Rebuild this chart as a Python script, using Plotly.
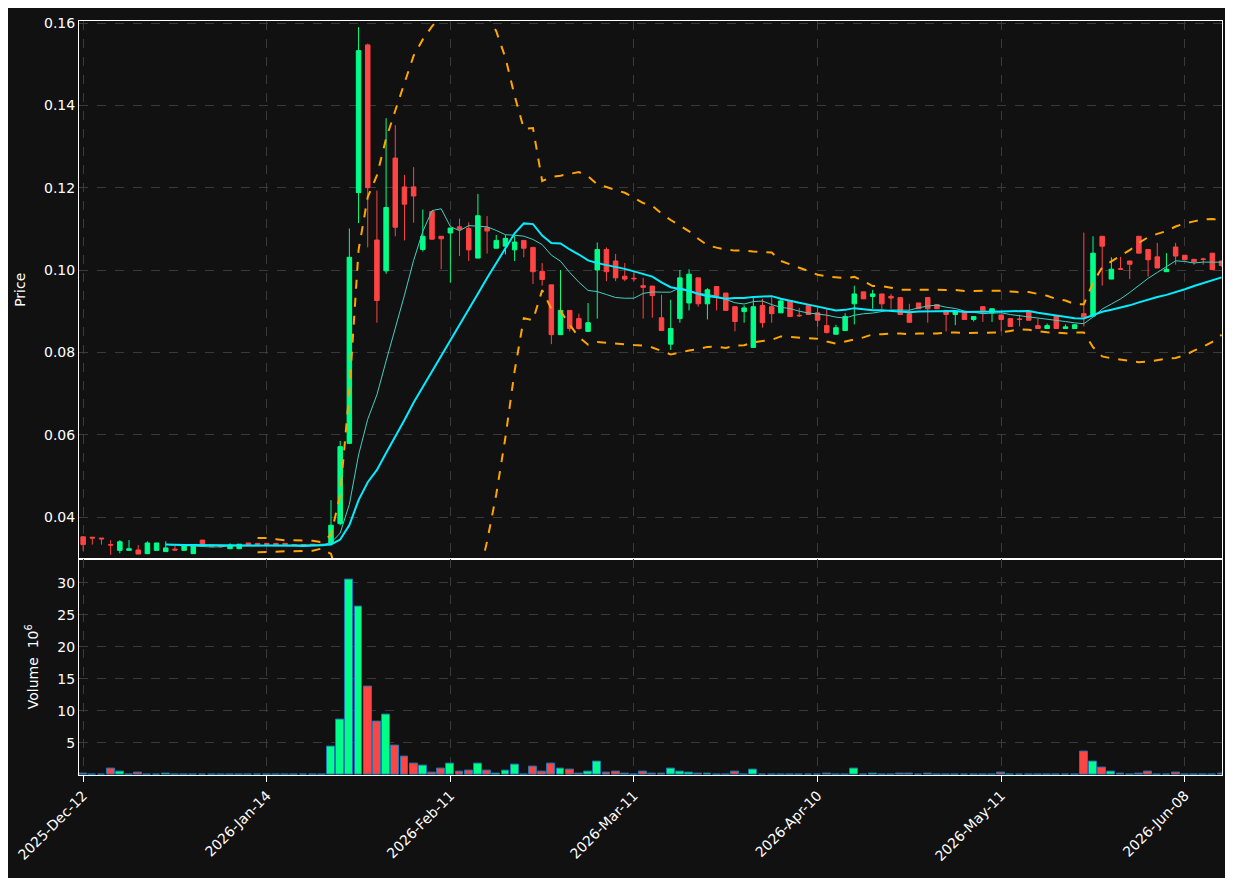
import pandas as pd
import plotly.graph_objects as go
from plotly.subplots import make_subplots

# OHLC per trading bar (index based x axis)
opens = [.0352,.0351,.0349,.0333,.0319,.0319,.0320,.0311,.0319,.0316,.0322,.0319,.0311,.0344,.0332,.0329,.0323,.0323,.0337,.0336,
         .0336,.0336,.0336,.0333,.0333,.0334,.0334,.0336,.0384,.0579,.1188,.1547,.1073,.0998,.1272,.1202,.1202,.1050,.1142,.1082,
         .1090,.1105,.1101,.1029,.1103,.1053,.1058,.1049,.1072,.1055,.0997,.0964,.0843,.0902,.0882,.0851,.1000,.1050,.1022,.0985,
         .0980,.0962,.0961,.0884,.0820,.0882,.0920,.0981,.0918,.0960,.0944,.0911,.0899,.0812,.0914,.0911,.0896,.0926,.0890,.0914,
         .0896,.0865,.0844,.0853,.0918,.0947,.0936,.0942,.0936,.0933,.0894,.0920,.0933,.0916,.0902,.0892,.0896,.0880,.0911,.0896,
         .0891,.0882,.0881,.0899,.0865,.0858,.0889,.0858,.0858,.0894,.0888,.1082,.0978,.1003,.1022,.1082,.1050,.1032,.0996,.1056,
         .1036,.1026,.1027,.1041,.1022]
highs = [.0353,.0351,.0349,.0344,.0344,.0344,.0332,.0341,.0337,.0341,.0330,.0330,.0332,.0344,.0332,.0333,.0336,.0334,.0337,.0336,
         .0336,.0336,.0336,.0333,.0334,.0334,.0334,.0441,.0585,.1101,.1590,.1550,.1193,.1369,.1352,.1231,.1250,.1147,.1143,.1082,
         .1102,.1125,.1116,.1185,.1131,.1085,.1085,.1083,.1072,.1055,.1017,.0964,.1000,.0902,.0894,.0920,.1067,.1055,.1039,.1017,
         .0995,.0981,.0961,.0940,.0928,.1000,.1002,.0981,.0956,.0960,.0944,.0911,.0914,.0932,.0930,.0938,.0930,.0926,.0908,.0914,
         .0914,.0906,.0867,.0895,.0962,.0947,.0952,.0942,.0942,.0933,.0918,.0920,.0933,.0916,.0902,.0899,.0896,.0887,.0911,.0906,
         .0891,.0882,.0891,.0899,.0882,.0870,.0889,.0868,.0869,.1091,.1082,.1082,.1031,.1032,.1022,.1082,.1050,.1066,.1041,.1066,
         .1036,.1026,.1030,.1041,.1022]
lows = [.0318,.0333,.0333,.0308,.0312,.0319,.0310,.0311,.0319,.0316,.0318,.0319,.0311,.0332,.0327,.0326,.0323,.0323,.0333,.0333,
        .0333,.0333,.0333,.0332,.0332,.0332,.0332,.0336,.0380,.0577,.1114,.1055,.0872,.0991,.1082,.1072,.1115,.1045,.1073,.1002,
        .0969,.1034,.1022,.1029,.1040,.1053,.1038,.1022,.1031,.0966,.0962,.0820,.0843,.0851,.0855,.0851,.0882,.0973,.0973,.0973,
        .0973,.0882,.0884,.0853,.0806,.0872,.0902,.0911,.0880,.0902,.0902,.0851,.0872,.0812,.0860,.0872,.0896,.0887,.0886,.0892,
        .0862,.0846,.0844,.0853,.0868,.0930,.0906,.0905,.0906,.0892,.0873,.0906,.0872,.0906,.0851,.0866,.0880,.0875,.0874,.0874,
        .0851,.0863,.0863,.0878,.0858,.0858,.0858,.0858,.0858,.0863,.0888,.0962,.0978,.1002,.0978,.1041,.0984,.1005,.0996,.1013,
        .1025,.1013,.1013,.1001,.1008]
closes = [.0333,.0349,.0347,.0332,.0340,.0323,.0310,.0337,.0337,.0325,.0320,.0330,.0330,.0332,.0328,.0328,.0332,.0334,.0333,.0333,
          .0333,.0333,.0333,.0332,.0332,.0332,.0332,.0380,.0571,.1031,.1533,.1200,.0926,.1152,.1104,.1160,.1180,.1082,.1075,.1076,
          .1102,.1099,.1049,.1132,.1095,.1072,.1077,.1068,.1053,.0996,.0977,.0843,.0902,.0858,.0858,.0872,.1050,.0996,.0981,.0978,
          .0979,.0958,.0938,.0853,.0858,.0981,.0990,.0918,.0952,.0938,.0902,.0875,.0908,.0911,.0872,.0894,.0925,.0887,.0889,.0892,
          .0878,.0848,.0860,.0887,.0942,.0930,.0942,.0918,.0932,.0892,.0873,.0906,.0906,.0906,.0892,.0899,.0880,.0887,.0899,.0906,
          .0880,.0863,.0880,.0878,.0858,.0865,.0858,.0862,.0867,.0886,.1041,.1058,.1002,.1002,.1014,.1041,.1025,.1005,.1002,.1034,
          .1025,.1020,.1026,.1001,.1011]
# volume in millions
volume = [.26,.05,.05,1.0,.57,.1,.4,.1,.02,.26,.02,.02,.1,.1,.02,.1,.1,.02,.02,.02,
          .02,.02,.02,.02,.1,.02,.02,4.5,8.64,30.5,26.3,13.8,8.3,9.4,4.6,2.8,1.8,1.5,.4,1.0,
          1.8,.57,.72,1.8,.72,.26,.72,1.66,.05,1.35,.57,1.8,1.0,.88,.26,.57,2.1,.4,.57,.26,
          .05,.57,.26,.26,1.0,.57,.41,.26,.26,.05,.05,.57,.05,.88,.05,.05,.05,.05,.05,.05,
          .05,.26,.05,.05,1.04,.05,.26,.05,.02,.26,.26,.02,.26,.02,.05,.02,.05,.05,.05,.05,
          .41,.05,.02,.05,.05,.02,.02,.02,.05,3.68,2.12,1.19,.57,.26,.05,.26,.57,.05,.05,.41,
          .05,.02,.05,.05,.26]

tick_pos = [0, 20, 40, 60, 80, 100, 120]
tick_text = ['2025-Dec-12', '2026-Jan-14', '2026-Feb-11', '2026-Mar-11',
             '2026-Apr-10', '2026-May-11', '2026-Jun-08']

UP = '#00ff88'
DOWN = '#ff4444'

df = pd.DataFrame({'o': opens, 'h': highs, 'l': lows, 'c': closes, 'v': volume})
x = list(range(len(df)))
ma10 = df['c'].rolling(10).mean()
ma20 = df['c'].rolling(20, min_periods=10).mean()
mid = df['c'].rolling(20).mean()
std = df['c'].rolling(20).std()
bb_up = mid + 2 * std
bb_lo = mid - 2 * std

fig = make_subplots(rows=2, cols=1, shared_xaxes=True, vertical_spacing=0,
                    row_heights=[0.713, 0.287])

fig.add_trace(go.Candlestick(x=x, open=df['o'], high=df['h'], low=df['l'], close=df['c'],
                             increasing=dict(line=dict(color=UP, width=1), fillcolor=UP),
                             decreasing=dict(line=dict(color=DOWN, width=1), fillcolor=DOWN),
                             whiskerwidth=0, showlegend=False), row=1, col=1)
fig.add_trace(go.Scatter(x=x, y=bb_up, mode='lines', line=dict(color='#ffa500', width=2, dash='dash'),
                         showlegend=False), row=1, col=1)
fig.add_trace(go.Scatter(x=x, y=bb_lo, mode='lines', line=dict(color='#ffa500', width=2, dash='dash'),
                         showlegend=False), row=1, col=1)
fig.add_trace(go.Scatter(x=x, y=ma10, mode='lines', line=dict(color='#40d0c0', width=1),
                         showlegend=False), row=1, col=1)
fig.add_trace(go.Scatter(x=x, y=ma20, mode='lines', line=dict(color='#00eeff', width=2),
                         showlegend=False), row=1, col=1)

vcol = [UP if c >= o else DOWN for o, c in zip(df['o'], df['c'])]
fig.add_trace(go.Bar(x=x, y=df['v'], marker=dict(color=vcol, line=dict(color='#1f77b4', width=1)),
                     width=0.85, showlegend=False), row=2, col=1)

axis_common = dict(showgrid=True, gridcolor='#3a3a3a', griddash='dash', gridwidth=1,
                   zeroline=False, showline=True, linecolor='white', mirror=True,
                   tickfont=dict(color='white', size=14), color='white')
fig.update_xaxes(**axis_common, range=[-0.45, 124.05], tickvals=tick_pos, ticktext=tick_text,
                 rangeslider_visible=False)
fig.update_xaxes(showticklabels=False, ticks='', row=1, col=1)
fig.update_xaxes(tickangle=-45, ticks='outside', tickcolor='white', ticklen=6, row=2, col=1)
fig.update_yaxes(**axis_common)
fig.update_yaxes(range=[0.0299, 0.1605], tickvals=[0.04, 0.06, 0.08, 0.10, 0.12, 0.14, 0.16],
                 tickformat='.2f', title=dict(text='Price', font=dict(color='white', size=14)),
                 row=1, col=1)
fig.update_yaxes(range=[0, 33.8], tickvals=[5, 10, 15, 20, 25, 30],
                 title=dict(text='Volume  10<sup>6</sup>', font=dict(color='white', size=14)),
                 row=2, col=1)

fig.update_layout(width=1225, height=870, paper_bgcolor='#111111', plot_bgcolor='#111111',
                  margin=dict(l=69, r=11, t=7, b=103), bargap=0,
                  font=dict(family='DejaVu Sans', color='white'))

fig.write_html("out.html")
